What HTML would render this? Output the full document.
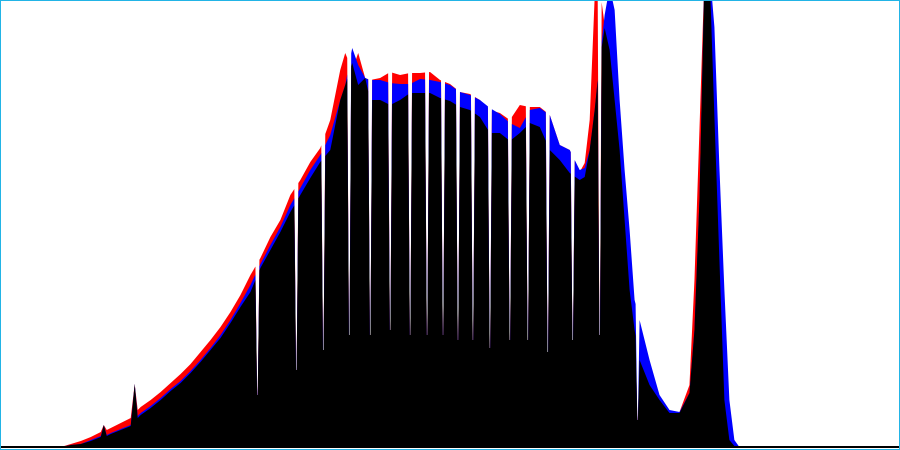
<!DOCTYPE html>
<html><head><meta charset="utf-8"><style>
html,body{margin:0;padding:0;background:#fff}
#wrap{width:898px;height:448px;border:1px solid #22b4e6;position:relative;overflow:hidden}
svg{display:block}
</style></head><body>
<div id="wrap">
<svg id="chart" width="898" height="448"></svg>
</div>
<script>
const bins=[0,60,70,80,90,100,103,106,110,120,130,134,137,140,150,160,170,180,190,200,210,220,230,240,250,260,270,280,290,300,310,320,330,340,345,352,358,365,370,380,390,400,410,420,430,440,450,460,470,480,490,500,510,520,530,540,550,560,570,580,585,590,595,600,605,610,615,620,625,630,635,640,650,660,670,680,690,695,700,705,710,715,720,725,730,735,740,900];
const blackVals=[0,0,2,3,6,10,22,11,13,17,21,63,29,32,39,47,56,64,74,85,97,109,124,140,155,179,197,215,235,252,269,285,297,347,362,384,362,369,347,347,342,347,354,354,354,349,346,340,337,330,314,314,306,314,324,320,297,287,274,267,270,297,337,387,419,397,347,297,227,157,117,87,62,47,34,34,54,117,247,470,480,330,187,47,7,1,0,0];
const blueVals=[0,0,2,3,7,11,22,12,14,18,22,63,31,34,41,49,58,66,76,87,99,112,127,144,162,183,202,220,242,259,277,292,312,347,362,399,382,369,367,367,364,363,363,368,367,365,362,355,352,347,339,333,324,319,337,339,332,302,297,277,279,297,337,387,432,460,437,347,277,217,147,127,87,52,37,35,54,117,247,470,480,420,280,157,47,7,0,0];
const redVals=[0,0,3,6,10,15,22,17,19,24,29,63,37,40,47,55,64,73,83,95,107,120,135,152,172,189,210,227,252,267,285,299,327,377,394,377,394,369,367,369,375,372,374,374,375,367,363,355,353,347,337,334,327,342,340,340,332,302,297,275,284,327,450,460,422,387,337,297,227,157,117,87,62,47,34,35,62,167,317,470,480,330,187,47,7,1,0,0];
const gapX=[257,296,323,349,370,390,410,427,443,458,473,490,510,528,548,573,600,638];
const gapDepth=[52,77,97,112,112,117,112,112,112,107,107,99,107,107,95,107,112,27];

const W=898,H=448,base=446;
const xScale=v=>v*(W/900);
const yScale=v=>base-v*(base-1)/445;
function interp(xs,ys,x){
  for(let i=0;i<xs.length-1;i++){if(x>=xs[i]&&x<=xs[i+1]){const t=(x-xs[i])/(xs[i+1]-xs[i]||1);return ys[i]+t*(ys[i+1]-ys[i]);}}
  return 0;
}
function buildPath(vals){
  let pts=[];
  for(let i=0;i<bins.length;i++){
    const b=bins[i];
    if(gapX.some(g=>Math.abs(b-g)<2))continue;
    pts.push([b,vals[i]]);
  }
  gapX.forEach((g,k)=>{
    const vl=interp(bins,vals,g-2),vr=interp(bins,vals,g+2);
    const d=gapDepth[k];
    pts.push([g-2,vl],[g-0.3,Math.min(d,vl)],[g+0.3,Math.min(d,vr)],[g+2,vr]);
  });
  pts.sort((a,b)=>a[0]-b[0]);
  let d='M'+xScale(pts[0][0]).toFixed(2)+','+yScale(0);
  pts.forEach(p=>{d+='L'+xScale(p[0]).toFixed(2)+','+yScale(p[1]).toFixed(2);});
  d+='L'+xScale(pts[pts.length-1][0]).toFixed(2)+','+yScale(0)+'Z';
  return d;
}
const svg=document.getElementById('chart');
const NS='http://www.w3.org/2000/svg';
const series=[['red-channel-area',redVals,'#ff0000'],['blue-channel-area',blueVals,'#0000ff'],['luminance-area',blackVals,'#000000']];
series.forEach(s=>{
  const p=document.createElementNS(NS,'path');
  p.setAttribute('d',buildPath(s[1]));
  p.setAttribute('fill',s[2]);
  
  
  svg.appendChild(p);
});
const bl=document.createElementNS(NS,'rect');
bl.setAttribute('x',0);bl.setAttribute('y',base-1);bl.setAttribute('width',W);bl.setAttribute('height',2);bl.setAttribute('fill','#000');


svg.appendChild(bl);
</script>
</body></html>
